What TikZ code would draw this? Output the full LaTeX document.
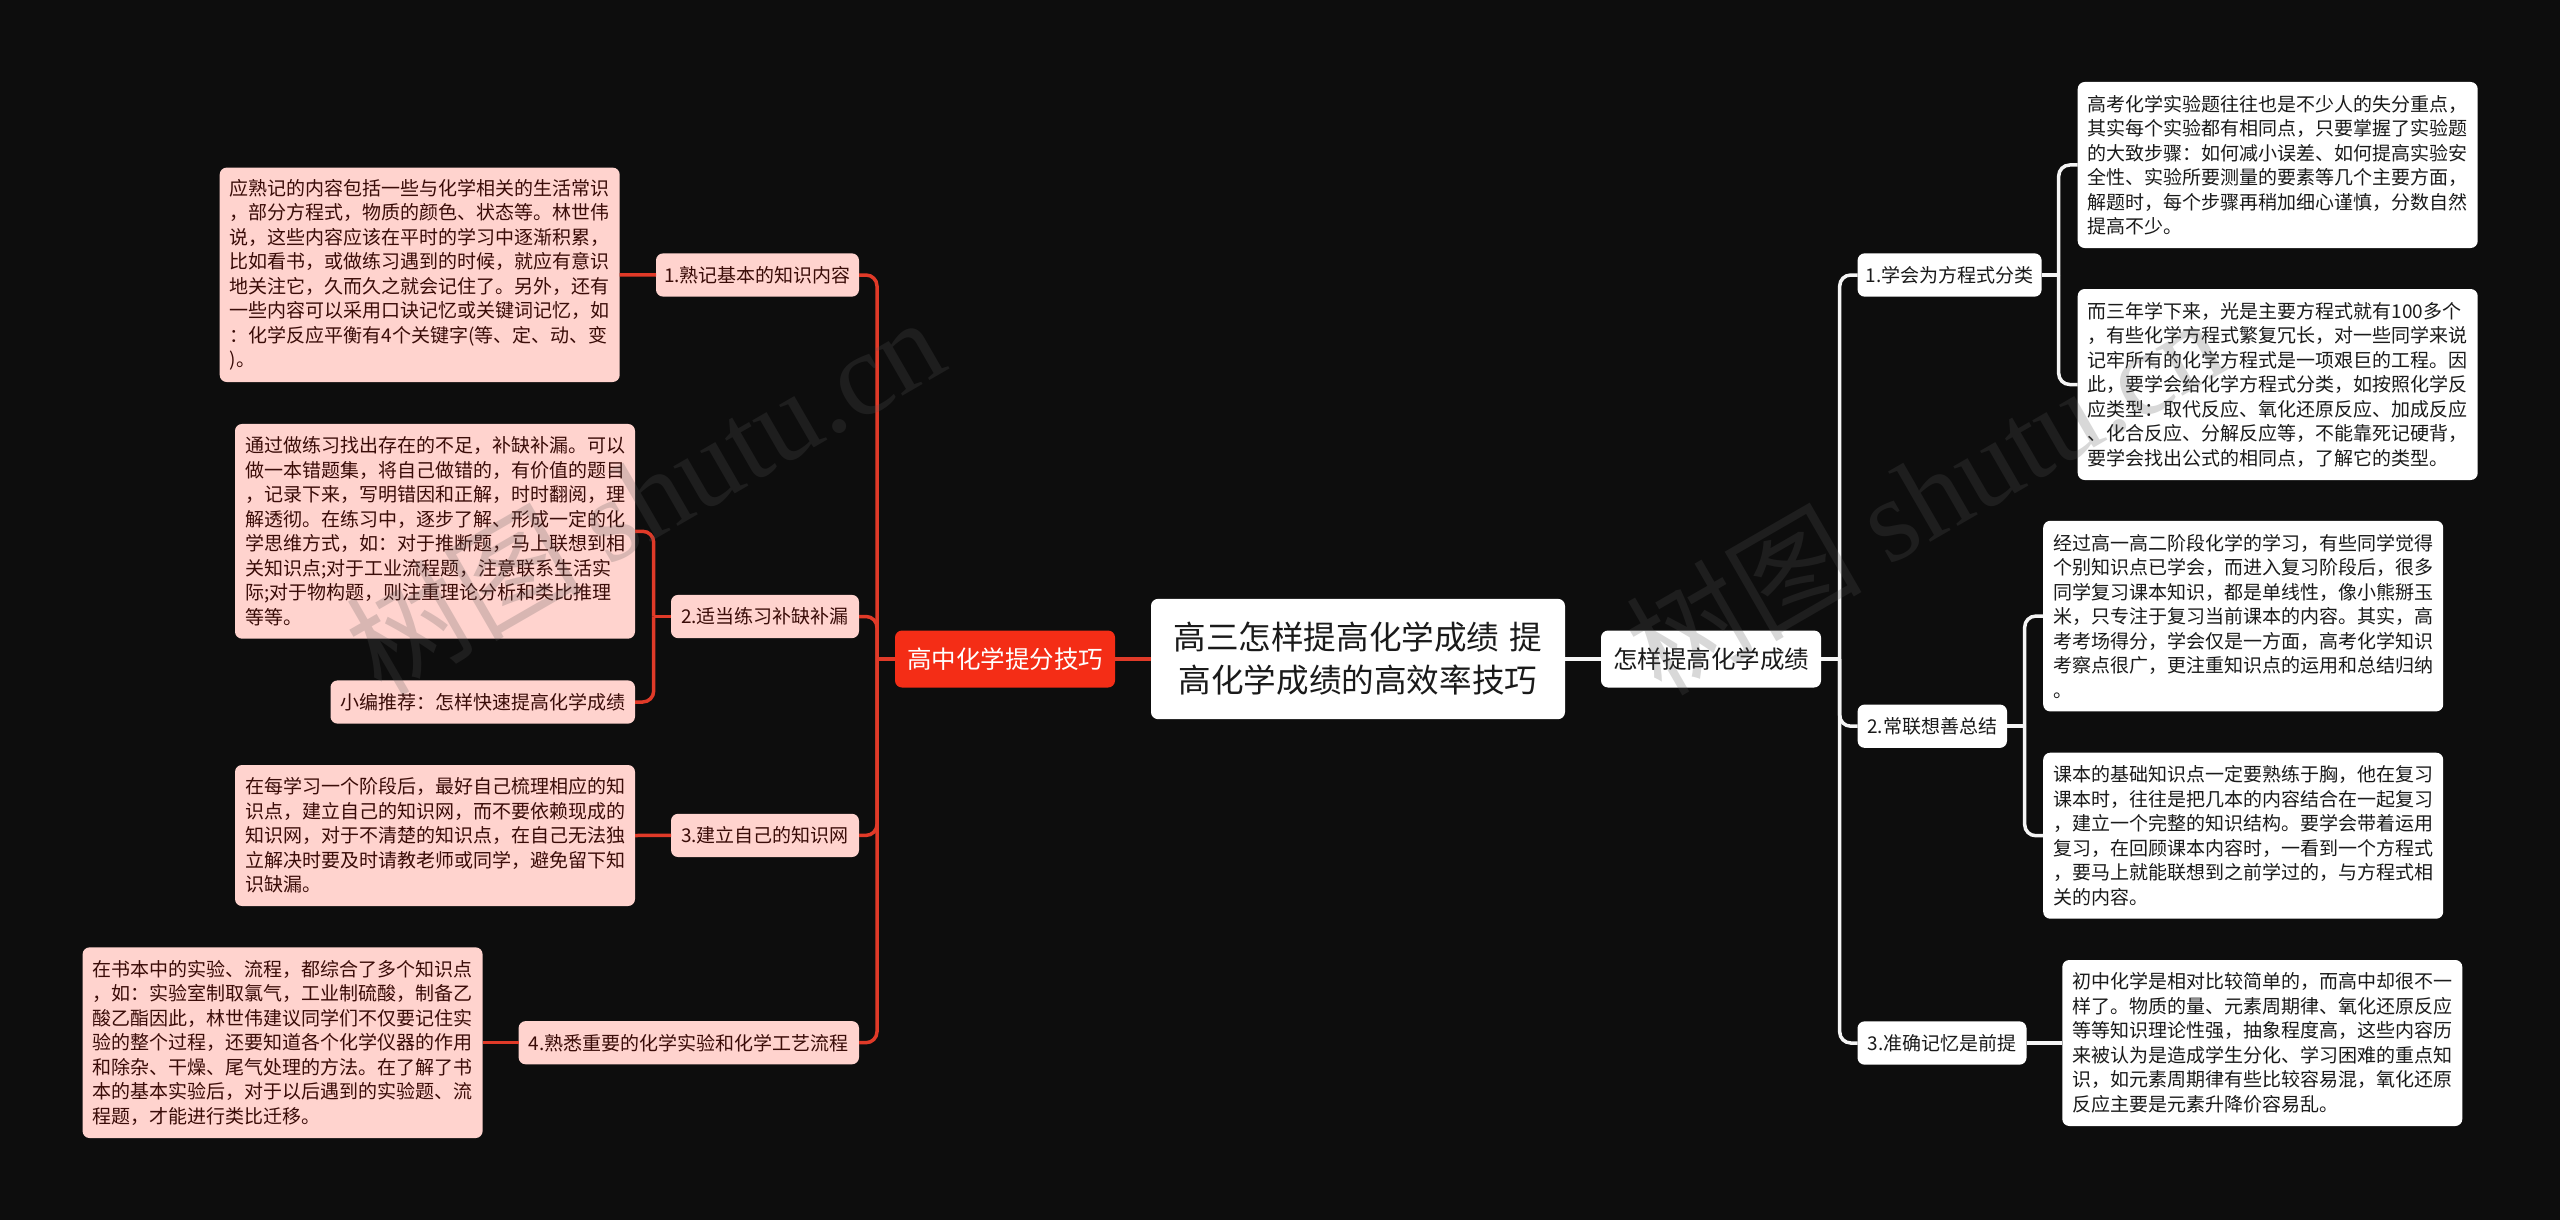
\documentclass[tikz,border=0pt]{standalone}
\usepackage{fontspec}
\setmainfont{Noto Sans CJK SC}
\newfontfamily\wmlat{Liberation Serif}
\def\Zc{\char"FF0C\relax}
\def\Zk{\char"FF1A\relax}
\definecolor{bgc}{HTML}{0D0D0D}
\definecolor{pinkc}{HTML}{FFD3CE}
\definecolor{redc}{HTML}{F42D16}
\definecolor{redl}{HTML}{E03A28}
\definecolor{whl}{HTML}{F5F5F5}
\definecolor{darkt}{HTML}{3A0C08}
\definecolor{blackt}{HTML}{1A1A1A}
\definecolor{wmc}{HTML}{575757}
\tikzset{
  x=1pt,y=-1pt,
  basebox/.style={rectangle,rounded corners=7pt,inner sep=0pt,outer sep=0pt},
  txt/.style={font=\fontsize{19}{24.5}\selectfont},
  para/.style={basebox,txt,align=left,text width=380pt,minimum width=400pt,inner xsep=10pt},
  lab/.style={basebox,txt,align=center},
  pinkpara/.style={para,fill=pinkc,text=darkt},
  pinklab/.style={lab,fill=pinkc,text=darkt},
  whpara/.style={para,fill=white,text=blackt},
  whlab/.style={lab,fill=white,text=blackt},
  redline/.style={draw=redl,line width=3.5pt,rounded corners=11pt},
  whline/.style={draw=whl,line width=3.5pt,rounded corners=11pt},
  wmark/.style={text=wmc,text opacity=0.23,rotate=30,anchor=base west,inner sep=0pt,font=\fontsize{118}{118}\selectfont},
}
\begin{document}
\begin{tikzpicture}
\useasboundingbox (0,0) rectangle (2560,1220);
\fill[bgc] (0,0) rectangle (2560,1220);

% central nodes
\node[basebox,fill=white,text=blackt,align=center,minimum width=414pt,minimum height=120.3pt,font=\fontsize{32.6}{43}\selectfont] (center) at (1358,659) {高三怎样提高化学成绩\hspace{10.5pt}提\\高化学成绩的高效率技巧};
\node[basebox,fill=redc,text=white,align=center,minimum width=220pt,minimum height=57pt,font=\fontsize{24.5}{30}\selectfont] (rr) at (1005,659) {高中化学提分技巧};
\node[basebox,fill=white,text=blackt,align=center,minimum width=220pt,minimum height=57pt,font=\fontsize{24.5}{30}\selectfont] (rw) at (1711,659) {怎样提高化学成绩};

% left branch labels
\node[pinklab,minimum width=203pt,minimum height=43.2pt] (l1) at (757.5,275) {1.熟记基本的知识内容};
\node[pinklab,minimum width=188pt,minimum height=43.2pt] (l2) at (765,616.5) {2.适当练习补缺补漏};
\node[pinklab,minimum width=188pt,minimum height=43.2pt] (l3) at (765,835.4) {3.建立自己的知识网};
\node[pinklab,minimum width=340.4pt,minimum height=43.2pt] (l4) at (688.8,1042.7) {4.熟悉重要的化学实验和化学工艺流程};

% left paragraphs
\node[pinkpara,minimum height=214.4pt] (a1) at (419.7,274.8) {应熟记的内容包括一些与化学相关的生活常识\\\Zc{}部分方程式\Zc{}物质的颜色、状态等。林世伟\\说\Zc{}这些内容应该在平时的学习中逐渐积累\Zc{}\\比如看书\Zc{}或做练习遇到的时候\Zc{}就应有意识\\地关注它\Zc{}久而久之就会记住了。另外\Zc{}还有\\一些内容可以采用口诀记忆或关键词记忆\Zc{}如\\\Zk{}化学反应平衡有4个关键字(等、定、动、变\\)。};
\node[pinkpara,minimum height=214.7pt] (a2) at (435,531.3) {通过做练习找出存在的不足\Zc{}补缺补漏。可以\\做一本错题集\Zc{}将自己做错的\Zc{}有价值的题目\\\Zc{}记录下来\Zc{}写明错因和正解\Zc{}时时翻阅\Zc{}理\\解透彻。在练习中\Zc{}逐步了解、形成一定的化\\学思维方式\Zc{}如\Zk{}对于推断题\Zc{}马上联想到相\\关知识点;对于工业流程题\Zc{}注意联系生活实\\际;对于物构题\Zc{}则注重理论分析和类比推理\\等等。};
\node[pinklab,minimum width=304.5pt,minimum height=43.2pt] (rec) at (482.75,702) {小编推荐\Zk{}怎样快速提高化学成绩};
\node[pinkpara,minimum height=141pt] (a3) at (435,835.5) {在每学习一个阶段后\Zc{}最好自己梳理相应的知\\识点\Zc{}建立自己的知识网\Zc{}而不要依赖现成的\\知识网\Zc{}对于不清楚的知识点\Zc{}在自己无法独\\立解决时要及时请教老师或同学\Zc{}避免留下知\\识缺漏。};
\node[pinkpara,minimum height=190.7pt] (a4) at (282.6,1042.7) {在书本中的实验、流程\Zc{}都综合了多个知识点\\\Zc{}如\Zk{}实验室制取氯气\Zc{}工业制硫酸\Zc{}制备乙\\酸乙酯因此\Zc{}林世伟建议同学们不仅要记住实\\验的整个过程\Zc{}还要知道各个化学仪器的作用\\和除杂、干燥、尾气处理的方法。在了解了书\\本的基本实验后\Zc{}对于以后遇到的实验题、流\\程题\Zc{}才能进行类比迁移。};

% right branch labels
\node[whlab,minimum width=184pt,minimum height=43.3pt] (r1) at (1949.6,275) {1.学会为方程式分类};
\node[whlab,minimum width=149.4pt,minimum height=43.3pt] (r2) at (1932.3,726.2) {2.常联想善总结};
\node[whlab,minimum width=169pt,minimum height=43.3pt] (r3) at (1942,1043) {3.准确记忆是前提};

% right paragraphs
\node[whpara,minimum height=166pt] (b1) at (2277.7,165) {高考化学实验题往往也是不少人的失分重点\Zc{}\\其实每个实验都有相同点\Zc{}只要掌握了实验题\\的大致步骤\Zk{}如何减小误差、如何提高实验安\\全性、实验所要测量的要素等几个主要方面\Zc{}\\解题时\Zc{}每个步骤再稍加细心谨慎\Zc{}分数自然\\提高不少。};
\node[whpara,minimum height=191pt] (b2) at (2277.7,384.5) {而三年学下来\Zc{}光是主要方程式就有100多个\\\Zc{}有些化学方程式繁复冗长\Zc{}对一些同学来说\\记牢所有的化学方程式是一项艰巨的工程。因\\此\Zc{}要学会给化学方程式分类\Zc{}如按照化学反\\应类型\Zk{}取代反应、氧化还原反应、加成反应\\、化合反应、分解反应等\Zc{}不能靠死记硬背\Zc{}\\要学会找出公式的相同点\Zc{}了解它的类型。};
\node[whpara,minimum height=190.6pt] (c1) at (2243.2,616.1) {经过高一高二阶段化学的学习\Zc{}有些同学觉得\\个别知识点已学会\Zc{}而进入复习阶段后\Zc{}很多\\同学复习课本知识\Zc{}都是单线性\Zc{}像小熊掰玉\\米\Zc{}只专注于复习当前课本的内容。其实\Zc{}高\\考考场得分\Zc{}学会仅是一方面\Zc{}高考化学知识\\考察点很广\Zc{}更注重知识点的运用和总结归纳\\。};
\node[whpara,minimum height=166pt] (c2) at (2243.2,835.7) {课本的基础知识点一定要熟练于胸\Zc{}他在复习\\课本时\Zc{}往往是把几本的内容结合在一起复习\\\Zc{}建立一个完整的知识结构。要学会带着运用\\复习\Zc{}在回顾课本内容时\Zc{}一看到一个方程式\\\Zc{}要马上就能联想到之前学过的\Zc{}与方程式相\\关的内容。};
\node[whpara,minimum height=166pt] (d1) at (2262.3,1043) {初中化学是相对比较简单的\Zc{}而高中却很不一\\样了。物质的量、元素周期律、氧化还原反应\\等等知识理论性强\Zc{}抽象程度高\Zc{}这些内容历\\来被认为是造成学生分化、学习困难的重点知\\识\Zc{}如元素周期律有些比较容易混\Zc{}氧化还原\\反应主要是元素升降价容易乱。};

% junction coordinates
\coordinate (spl) at (877,659);
\coordinate (spl2) at (653.7,616.5);
\coordinate (spr) at (1839.7,659);
\coordinate (spr1) at (2058.7,275);
\coordinate (spr2) at (2024.7,726.2);

% connectors (red)
\draw[redline] (rr.east) -- (center.west);
\draw[redline] (rr.west) -- (spl);
\draw[redline] (l1.east) -- (spl |- l1.east) -- (spl);
\draw[redline] (l2.east) -- (spl |- l2.east) -- (spl);
\draw[redline] (l3.east) -- (spl |- l3.east) -- (spl);
\draw[redline] (l4.east) -- (spl |- l4.east) -- (spl);
\draw[redline] (l1.west) -- (a1.east);
\draw[redline] (l2.west) -- (spl2);
\draw[redline] (a2.east) -- (spl2 |- a2.east) -- (spl2);
\draw[redline] (rec.east) -- (spl2 |- rec.east) -- (spl2);
\draw[redline] (l3.west) -- (a3.east);
\draw[redline] (l4.west) -- (a4.east);

% connectors (white)
\draw[whline] (center.east) -- (rw.west);
\draw[whline] (rw.east) -- (spr);
\draw[whline] (r1.west) -- (spr |- r1.west) -- (spr);
\draw[whline] (r2.west) -- (spr |- r2.west) -- (spr);
\draw[whline] (r3.west) -- (spr |- r3.west) -- (spr);
\draw[whline] (r1.east) -- (spr1);
\draw[whline] (b1.west) -- (spr1 |- b1.west) -- (spr1);
\draw[whline] (b2.west) -- (spr1 |- b2.west) -- (spr1);
\draw[whline] (r2.east) -- (spr2);
\draw[whline] (c1.west) -- (spr2 |- c1.west) -- (spr2);
\draw[whline] (c2.west) -- (spr2 |- c2.west) -- (spr2);
\draw[whline] (r3.east) -- (d1.west);

% watermarks
\node[wmark] (wm1) at (381,698) {树图 {\wmlat shutu.cn}};
\node[wmark] (wm2) at (1661,698) {树图 {\wmlat shutu.cn}};
\end{tikzpicture}
\end{document}
